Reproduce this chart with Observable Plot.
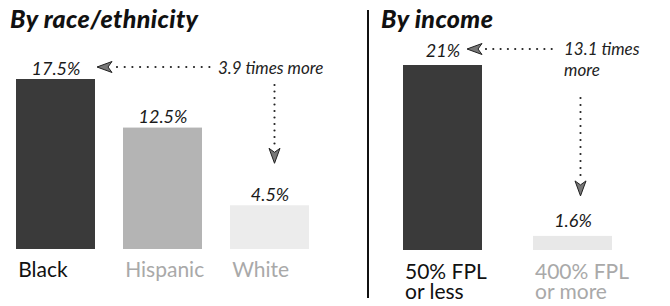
<!DOCTYPE html>
<html>
<head>
<meta charset="utf-8">
<script src="https://cdn.jsdelivr.net/npm/d3@7"></script>
<script src="https://cdn.jsdelivr.net/npm/@observablehq/plot@0.6"></script>
<style>
  html, body { margin: 0; padding: 0; background: #fff; }
  #chart { position: relative; width: 670px; height: 306px; overflow: hidden; }
  #chart svg { position: absolute; top: 0; }
  #divider { position: absolute; left: 367px; top: 10px; width: 2px; height: 288px; background: #111; }
</style>
</head>
<body>
<div id="chart"><div id="divider"></div></div>
<script>
// ---- data ----
const raceCategories = ["Black", "Hispanic", "White"];
const raceValues = [17.5, 12.5, 4.5];
const raceLabels = ["17.5%", "12.5%", "4.5%"];
const incomeCategories = ["50% FPL\nor less", "400% FPL\nor more"];
const incomeValues = [21, 1.6];
const incomeLabels = ["21%", "1.6%"];
const panelTitles = ["By race/ethnicity", "By income"];
const ratioNotes = ["3.9 times more", "13.1 times\nmore"];

// ---- styles ----
const raceBarFill = ["#3a3a3a", "#b4b4b4", "#ececec"];
const raceTextFill = ["#111", "#a9a9a9", "#a9a9a9"];
const incomeBarFill = ["#3a3a3a", "#e8e8e8"];
const incomeTextFill = ["#111", "#a9a9a9"];
const FONT = "Lato, 'Open Sans', sans-serif";

function panel({categories, values, labels, barFill, textFill, width, left, mL, mR, mT, mB, pad, labelGap, tickDy}) {
  const table = categories.map((c, i) => ({category: c, value: values[i], label: labels[i], bar: barFill[i], tfill: textFill[i]}));
  const n = categories.length;
  const bw = (width - mL - mR) * (1 - pad) / (n - pad);
  const plot = Plot.plot({
    width, height: 306,
    marginLeft: mL, marginRight: mR, marginTop: mT, marginBottom: mB,
    style: {fontFamily: FONT, background: "transparent", overflow: "visible"},
    x: {type: "band", domain: categories, paddingInner: pad, paddingOuter: 0, axis: null},
    y: {domain: [0, d3.max(values)], axis: null},
    color: {type: "identity"},
    marks: [
      Plot.barY(table, {x: "category", y: "value", fill: "bar"}),
      Plot.text(table, {x: "category", y: "value", text: "label", dy: -labelGap, lineAnchor: "bottom",
        fontSize: 18, fontStyle: "italic", fontWeight: 400, fill: "#1a1a1a"}),
      Plot.text(table, {x: "category", y: () => 0, text: "category", dy: tickDy, dx: -bw / 2 + 2,
        lineAnchor: "top", textAnchor: "start", fontSize: 21, lineHeight: 0.97, fill: "tfill"})
    ]
  });
  plot.style.left = left + "px";
  return plot;
}

const chart = document.getElementById("chart");

// Left panel
const p1 = panel({categories: raceCategories, values: raceValues, labels: raceLabels,
  barFill: raceBarFill, textFill: raceTextFill, width: 367, left: 0,
  mL: 15, mR: 57, mT: 79, mB: 57, pad: 0.26, labelGap: 5, tickDy: 13});
chart.appendChild(p1);

// Right panel
const p2 = panel({categories: incomeCategories, values: incomeValues, labels: incomeLabels,
  barFill: incomeBarFill, textFill: incomeTextFill, width: 302, left: 368,
  mL: 34, mR: 57, mT: 65, mB: 56, pad: 0.389, labelGap: 9, tickDy: 14});
chart.appendChild(p2);

// ---- annotations, positioned through each plot's own scales ----
function arrowHead(g, x, y, angle) {
  g.append("path")
    .attr("d", "M0,0 L15,-5.5 L11,0 L15,5.5 Z")
    .attr("transform", `translate(${x},${y}) rotate(${angle})`)
    .attr("fill", "#777").attr("stroke", "#222").attr("stroke-width", 1).attr("stroke-linejoin", "round");
}
function dots(g, x1, y1, x2, y2, gap) {
  g.append("line").attr("x1", x1).attr("y1", y1).attr("x2", x2).attr("y2", y2)
    .attr("stroke", "#222").attr("stroke-width", 2.2).attr("stroke-linecap", "round")
    .attr("stroke-dasharray", `0 ${gap}`);
}
function note(g, x, y, t) {
  g.append("text").attr("x", x).attr("y", y).attr("text-anchor", "start")
    .attr("font-family", FONT).attr("font-size", 17).attr("font-style", "italic").attr("fill", "#222")
    .text(t);
}
function title(svg, text, x) {
  d3.select(svg).append("text").attr("x", x).attr("y", 28).attr("text-anchor", "start")
    .attr("font-family", FONT).attr("font-size", 25).attr("font-weight", 900).attr("font-style", "italic")
    .attr("letter-spacing", 0.4).attr("fill", "#111").text(text);
}

{
  const sx = p1.scale("x"), sy = p1.scale("y");
  const bw = sx.bandwidth;
  const g = d3.select(p1).append("g");
  const xB = sx.apply(raceCategories[0]), xW = sx.apply(raceCategories[2]);
  const yTop = sy.apply(raceValues[0]), yW = sy.apply(raceValues[2]);
  const textX = xW - 12;
  note(g, textX, yTop - 5, ratioNotes[0]);
  arrowHead(g, xB + bw + 2, yTop - 12, 0);
  dots(g, xB + bw + 22, yTop - 12, textX - 7, yTop - 12, 7.7);
  const vx = xW + bw / 2 + 5;
  const tip = yW - 42;
  dots(g, vx, yTop + 6, vx, tip - 14, 6.5);
  arrowHead(g, vx, tip, -90);
  title(p1, panelTitles[0], 10);
}
{
  const sx = p2.scale("x"), sy = p2.scale("y");
  const bw = sx.bandwidth;
  const g = d3.select(p2).append("g");
  const xA = sx.apply(incomeCategories[0]), xZ = sx.apply(incomeCategories[1]);
  const yTop = sy.apply(incomeValues[0]), yZ = sy.apply(incomeValues[1]);
  const textX = xZ + 31;
  ratioNotes[1].split("\n").forEach((t, i) => note(g, textX, yTop - 10 + i * 21, t));
  arrowHead(g, xA + bw - 15, yTop - 16, 0);
  dots(g, xA + bw + 4, yTop - 16, textX - 8, yTop - 16, 7.3);
  const vx = xZ + bw / 2 + 8;
  const tip = yZ - 40;
  dots(g, vx, yTop + 33, vx, tip - 14, 7);
  arrowHead(g, vx, tip, -90);
  title(p2, panelTitles[1], 13);
}
</script>
</body>
</html>
